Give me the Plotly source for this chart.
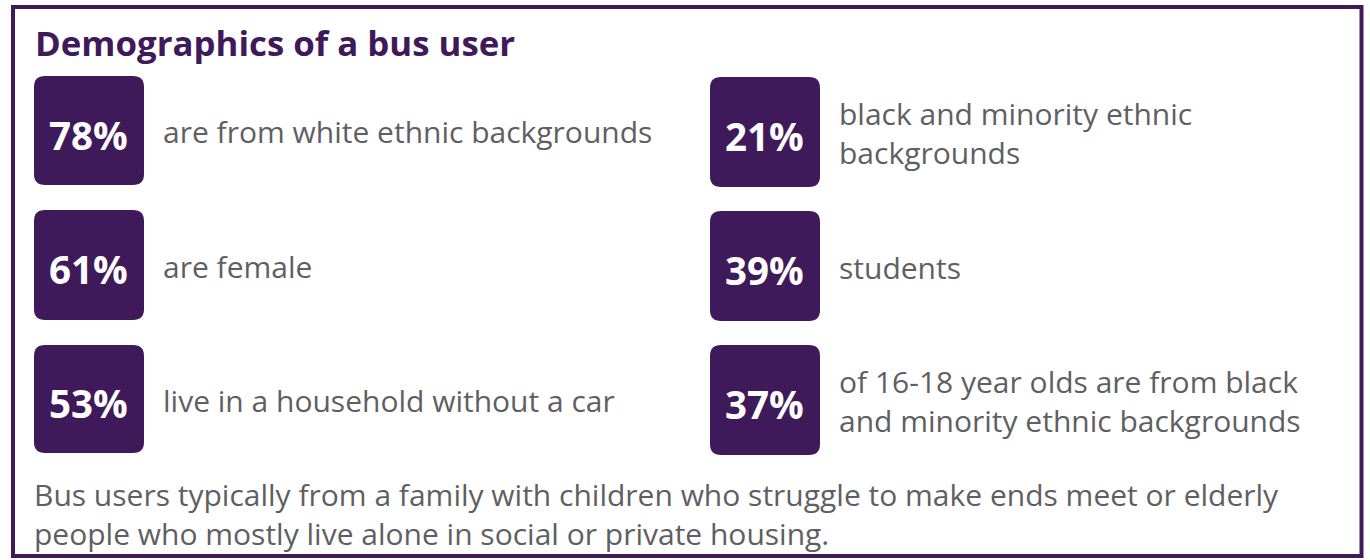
import plotly.graph_objects as go

title = "Demographics of a bus user"
left_values = ["78%", "61%", "53%"]
left_labels = ["are from white ethnic backgrounds", "are female", "live in a household without a car"]
right_values = ["21%", "39%", "37%"]
right_labels = ["black and minority ethnic<br>backgrounds", "students",
                "of 16-18 year olds are from black<br>and minority ethnic backgrounds"]
footer = ("Bus users typically from a family with children who struggle to make ends meet or elderly<br>"
          "people who mostly live alone in social or private housing.")

W, H = 1370, 560
PURPLE = "#3f1a5a"
GREY = "#5f5f63"
FONT = "Open Sans"

def rrect(x0, y0, x1, y1, r):
    return (f"M {x0+r},{y0} L {x1-r},{y0} Q {x1},{y0} {x1},{y0+r} L {x1},{y1-r} "
            f"Q {x1},{y1} {x1-r},{y1} L {x0+r},{y1} Q {x0},{y1} {x0},{y1-r} "
            f"L {x0},{y0+r} Q {x0},{y0} {x0+r},{y0} Z")

fig = go.Figure()
fig.add_trace(go.Scatter(x=[0, W], y=[0, H], mode="markers", marker=dict(opacity=0),
                         hoverinfo="skip", showlegend=False))

shapes = [dict(type="rect", x0=13, y0=7, x1=1361.5, y1=556, xref="x", yref="y",
               line=dict(color=PURPLE, width=4), fillcolor="white", layer="below")]
annotations = [dict(x=33, y=42, xref="x", yref="y", text=f"<b>{title}</b>", showarrow=False,
                    xanchor="left", yanchor="middle",
                    font=dict(family=FONT, size=34.8, color=PURPLE))]

rows_left = [(76, 185), (210, 320), (345, 453)]
rows_right = [(77, 187), (211, 321), (345, 455)]

for (vals, labs, rows, bx0, bx1, tx) in [
        (left_values, left_labels, rows_left, 34, 144, 161),
        (right_values, right_labels, rows_right, 710, 820, 837)]:
    for v, lab, (y0, y1) in zip(vals, labs, rows):
        shapes.append(dict(type="path", path=rrect(bx0, y0, bx1, y1, 11), xref="x", yref="y",
                           fillcolor=PURPLE, line=dict(width=0)))
        cy = (y0 + y1) / 2
        annotations.append(dict(x=(bx0 + bx1) / 2 - 1, y=cy + 4, xref="x", yref="y",
                                text=f"<b>{v}</b>", showarrow=False,
                                xanchor="center", yanchor="middle",
                                font=dict(family=FONT, size=38.5, color="white")))
        annotations.append(dict(x=tx, y=cy + 1, xref="x", yref="y", text=lab, showarrow=False,
                                xanchor="left", yanchor="middle", align="left",
                                font=dict(family=FONT, size=30, color=GREY)))

annotations.append(dict(x=32, y=514, xref="x", yref="y", text=footer, showarrow=False,
                        xanchor="left", yanchor="middle", align="left",
                        font=dict(family=FONT, size=30, color=GREY)))

fig.update_layout(width=W, height=H, margin=dict(l=0, r=0, t=0, b=0),
                  paper_bgcolor="white", plot_bgcolor="white",
                  xaxis=dict(range=[0, W], visible=False, fixedrange=True),
                  yaxis=dict(range=[H, 0], visible=False, fixedrange=True),
                  shapes=shapes, annotations=annotations, showlegend=False)
fig.write_html("out.html", config={"displayModeBar": False},
               post_script="document.body.style.margin='0';document.body.style.overflow='hidden';")
